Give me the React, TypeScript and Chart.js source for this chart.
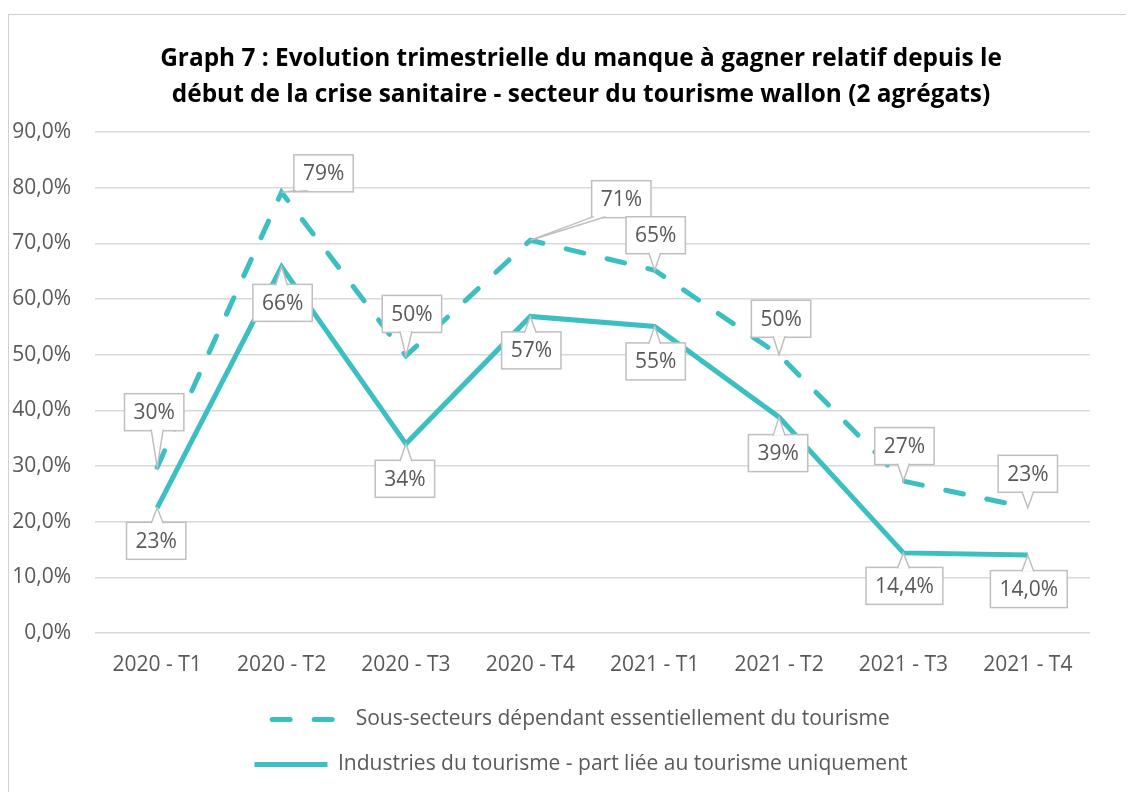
import React, { useEffect, useRef } from "react";
import { Chart, registerables } from "chart.js";

Chart.register(...registerables);

// ---- data ----
const categories = [
  "2020 - T1", "2020 - T2", "2020 - T3", "2020 - T4",
  "2021 - T1", "2021 - T2", "2021 - T3", "2021 - T4",
];
const sousSecteurs = [29.8, 79.2, 49.8, 70.6, 65.2, 50.0, 27.3, 22.5];
const industries = [22.5, 65.8, 34.0, 56.9, 55.1, 38.8, 14.4, 14.0];
const seriesNames = [
  "Sous-secteurs dépendant essentiellement du tourisme",
  "Industries du tourisme - part liée au tourisme uniquement",
];
const titleLines = [
  "Graph 7 : Evolution trimestrielle du manque à gagner relatif depuis le",
  "début de la crise sanitaire - secteur du tourisme wallon (2 agrégats)",
];
const yMin = 0;
const yMax = 90;
const yStep = 10;

// ---- label styling (decimals + callout offsets, px) ----
const labelDecimals = [
  [0, 0, 0, 0, 0, 0, 0, 0],
  [0, 0, 0, 0, 0, 0, 1, 1],
];
const labelOffsets: number[][][] = [
  [[-3, -55], [42, -19], [6, -42], [91, -41], [1, -35], [2, -36], [1, -35], [0, -34]],
  [[-1, 33], [1, 36], [-1, 35], [1, 34], [1, 35], [-1, 36], [1, 33], [1, 34]],
];

const TEAL = "#3cbfc2";
const GRAY_TEXT = "#595959";
const FONT = "'Open Sans'";

const fmt = (v: number, d: number) => v.toFixed(d).replace(".", ",") + "%";

const calloutPlugin = {
  id: "callouts",
  afterDatasetsDraw(chart: any) {
    const ctx = chart.ctx as CanvasRenderingContext2D;
    ctx.save();
    ctx.font = `21px ${FONT}`;
    ctx.textAlign = "center";
    ctx.textBaseline = "middle";
    chart.data.datasets.forEach((ds: any, di: number) => {
      const meta = chart.getDatasetMeta(di);
      meta.data.forEach((pt: any, j: number) => {
        const v = ds.data[j] as number;
        const text = fmt(v, labelDecimals[di][j]);
        const tw = ctx.measureText(text).width;
        const w = tw + 18;
        const h = 37;
        const cx = pt.x + labelOffsets[di][j][0];
        const cy = pt.y + labelOffsets[di][j][1];
        const l = cx - w / 2, t = cy - h / 2, r = cx + w / 2, b = cy + h / 2;
        const tx = pt.x, ty = pt.y;
        const clamp = (a: number, lo: number, hi: number) => Math.max(lo, Math.min(hi, a));
        let p1: number[], p2: number[];
        if (ty > b) {
          const bx = clamp(tx, l + 8, r - 8);
          p1 = [bx - 6, b - 1]; p2 = [bx + 6, b - 1];
        } else if (ty < t) {
          const bx = clamp(tx, l + 8, r - 8);
          p1 = [bx - 6, t + 1]; p2 = [bx + 6, t + 1];
        } else if (tx < l) {
          const by = clamp(ty, t + 8, b - 8);
          p1 = [l + 1, by - 6]; p2 = [l + 1, by + 6];
        } else {
          const by = clamp(ty, t + 8, b - 8);
          p1 = [r - 1, by - 6]; p2 = [r - 1, by + 6];
        }
        ctx.fillStyle = "#ffffff";
        ctx.strokeStyle = "#bfbfbf";
        ctx.lineWidth = 1.5;
        ctx.setLineDash([]);
        ctx.fillRect(l, t, w, h);
        ctx.strokeRect(l, t, w, h);
        ctx.beginPath();
        ctx.moveTo(p1[0], p1[1]);
        ctx.lineTo(tx, ty);
        ctx.lineTo(p2[0], p2[1]);
        ctx.closePath();
        ctx.fill();
        ctx.beginPath();
        ctx.moveTo(p1[0], p1[1]);
        ctx.lineTo(tx, ty);
        ctx.lineTo(p2[0], p2[1]);
        ctx.stroke();
        ctx.fillStyle = GRAY_TEXT;
        ctx.fillText(text, cx, cy + 1);
      });
    });
    ctx.restore();
  },
};

export default function App() {
  const ref = useRef<HTMLCanvasElement | null>(null);
  useEffect(() => {
    if (!ref.current) return;
    const chart = new Chart(ref.current, {
      type: "line",
      data: {
        labels: categories,
        datasets: [
          {
            label: seriesNames[0],
            data: sousSecteurs,
            borderColor: TEAL,
            backgroundColor: TEAL,
            borderWidth: 5,
            borderDash: [18, 24],
            borderCapStyle: "round",
            pointRadius: 0,
            tension: 0,
          },
          {
            label: seriesNames[1],
            data: industries,
            borderColor: TEAL,
            backgroundColor: TEAL,
            borderWidth: 5,
            borderCapStyle: "butt",
            pointRadius: 0,
            tension: 0,
          },
        ],
      },
      options: {
        responsive: false,
        animation: false,
        devicePixelRatio: 1,
        layout: { padding: { left: 63, right: 44, top: 0, bottom: 7 } },
        plugins: {
          title: {
            display: true,
            text: titleLines,
            color: "#000000",
            font: { family: FONT, size: 24.4, weight: "bold", lineHeight: 1.48 },
            padding: { top: 26, bottom: 19 },
          },
          legend: {
            display: true,
            position: "bottom",
            labels: {
              usePointStyle: true,
              pointStyle: "line",
              pointStyleWidth: 73,
              boxHeight: 21,
              color: GRAY_TEXT,
              font: { family: FONT, size: 21 },
              padding: 24,
              generateLabels: (ch: any) => {
                const items = (Chart as any).defaults.plugins.legend.labels.generateLabels(ch);
                return items.map((it: any) => {
                  const ds = ch.data.datasets[it.datasetIndex];
                  return {
                    ...it,
                    lineDash: ds.borderDash || [],
                    lineCap: ds.borderCapStyle || "butt",
                    lineWidth: 5,
                    strokeStyle: TEAL,
                  };
                });
              },
            },
          },
          tooltip: { enabled: false },
        },
        scales: {
          x: {
            offset: true,
            grid: { display: false },
            border: { display: false },
            ticks: {
              color: GRAY_TEXT,
              font: { family: FONT, size: 21 },
              padding: 11,
              maxRotation: 0,
            },
            afterFit: (scale: any) => {
              scale.height = 52;
              scale.paddingLeft = 0;
              scale.paddingRight = 0;
            },
          },
          y: {
            min: yMin,
            max: yMax,
            border: { display: false },
            grid: { color: "#d9d9d9", lineWidth: 1.5, drawTicks: false },
            ticks: {
              stepSize: yStep,
              color: GRAY_TEXT,
              font: { family: FONT, size: 21 },
              padding: 24,
              callback: (v: any) => Number(v).toFixed(1).replace(".", ",") + "%",
            },
            afterFit: (scale: any) => {
              // narrow axis box; labels extend into the left layout padding
              scale.width = 23;
              scale._computeLabelArea = () => undefined;
            },
          },
        },
      },
      plugins: [calloutPlugin],
    });
    return () => chart.destroy();
  }, []);

  return (
    <div
      style={{
        marginTop: 6,
        borderTop: "1px solid #d0d0d0",
        borderLeft: "1px solid #d0d0d0",
        width: 1125,
        height: 777,
        background: "#fff",
      }}
    >
      <canvas ref={ref} width={1125} height={777} style={{ display: "block" }} />
    </div>
  );
}
